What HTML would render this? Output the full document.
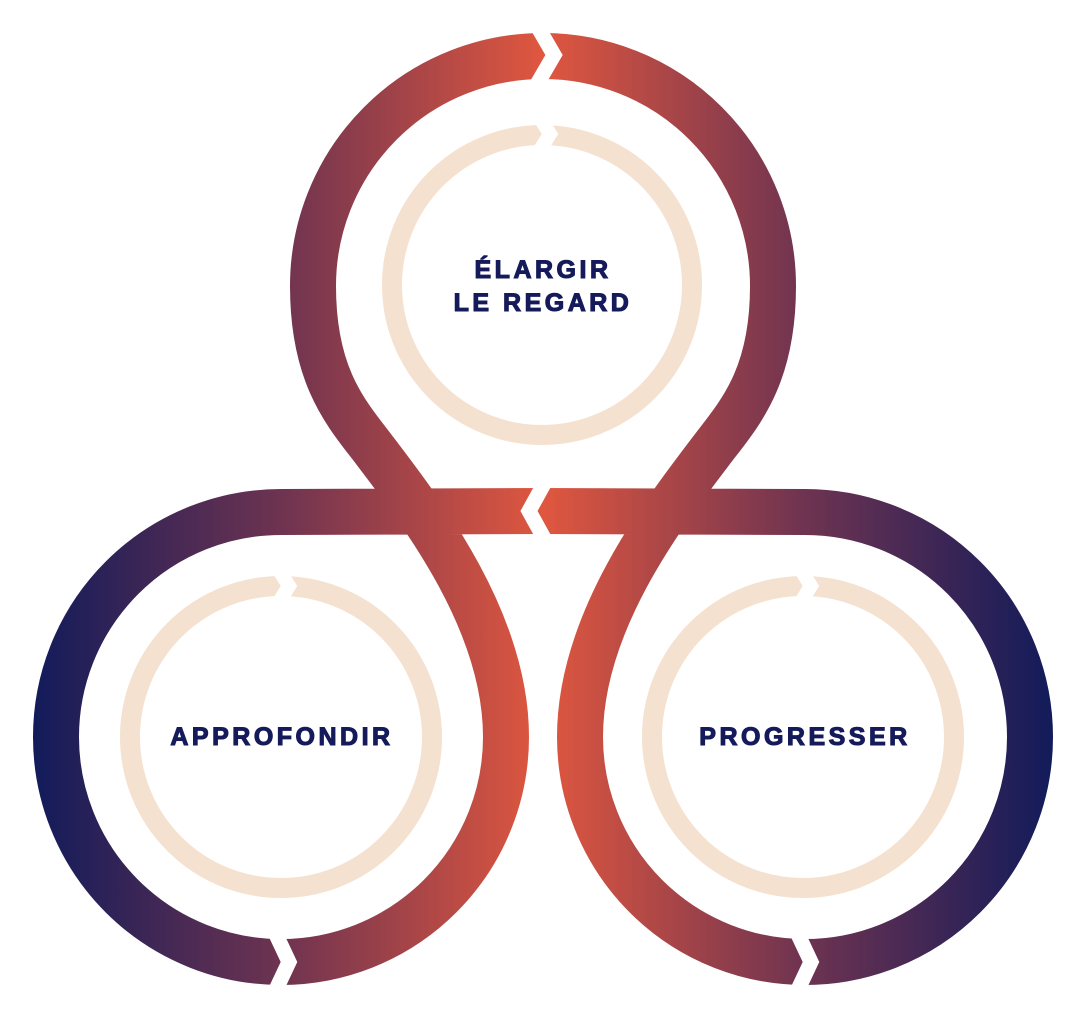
<!DOCTYPE html>
<html><head><meta charset="utf-8"><style>
html,body{margin:0;padding:0;background:#fff;}
svg{display:block;}
text{font-family:"Liberation Sans",sans-serif;font-weight:bold;fill:#141a5a;stroke:#141a5a;stroke-width:1.1px;font-size:25px;letter-spacing:3.5px;text-anchor:middle;}
</style></head><body>
<svg width="1080" height="1030" viewBox="0 0 1080 1030" xmlns="http://www.w3.org/2000/svg">
<defs>
<linearGradient id="g" gradientUnits="userSpaceOnUse" x1="33" y1="0" x2="1053" y2="0">
<stop offset="0" stop-color="#121b5a"/>
<stop offset="0.25" stop-color="#713450"/>
<stop offset="0.5" stop-color="#e0573f"/>
<stop offset="0.75" stop-color="#713450"/>
<stop offset="1" stop-color="#121b5a"/>
</linearGradient>
</defs>
<g fill="none" stroke="url(#g)" stroke-width="46">
<path d="M543,56 A230,230 0 0 0 313,286 C313,375 345,412 372,447 C420,510 506,620 506,737 A225,225 0 0 1 281,962 A225,225 0 0 1 56,737 A225,225 0 0 1 281,512 L545,511"/>
<path d="M543,56 A230,230 0 0 1 773,286 C773,375 741,412 714,447 C666,510 580,620 580,737 A225,225 0 0 0 805,962 A225,225 0 0 0 1030,737 A225,225 0 0 0 805,512 L541,511"/>
</g>
<g fill="none" stroke="#f5e1cf" stroke-width="20">
<circle cx="542" cy="285" r="150"/>
<circle cx="281" cy="737" r="151"/>
<circle cx="803" cy="737" r="151"/>
</g>
<g fill="none" stroke="#fff" stroke-width="15" stroke-linejoin="miter">
<polyline points="536,24 554,55 536,86"/>
<polyline points="545,482 529,511 545,540"/>
<polyline points="273,928 289,962 273,996"/>
<polyline points="795,928 811,962 795,996"/>
</g>
<g fill="none" stroke="#fff" stroke-width="14" stroke-linejoin="miter">
<polyline points="540,118 550,134 540,150"/>
<polyline points="279,570 289,586 279,602"/>
<polyline points="801,570 811,586 801,602"/>
</g>
<text x="543" y="278">ÉLARGIR</text>
<text x="543" y="311">LE REGARD</text>
<text x="282" y="745">APPROFONDIR</text>
<text x="805" y="745">PROGRESSER</text>
</svg>
</body></html>
